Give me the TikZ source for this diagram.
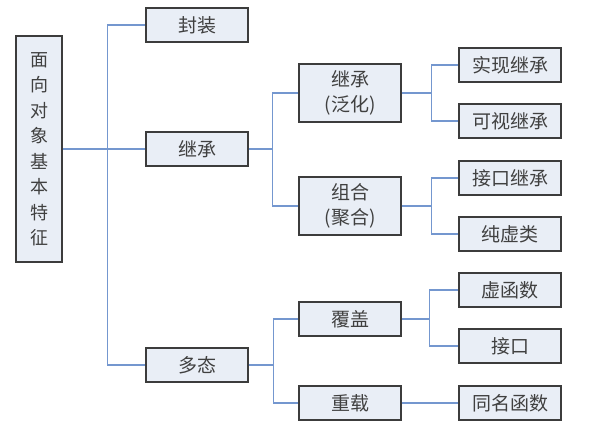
\documentclass[tikz,border=0pt]{standalone}
\usepackage{fontspec}
\setmainfont{Noto Sans CJK SC}
\usepackage{tikz}
\usetikzlibrary{positioning}

\definecolor{boxfill}{HTML}{E9EEF6}
\definecolor{boxline}{HTML}{3C3C3C}
\definecolor{linkblue}{HTML}{7497CF}

\tikzset{
  box/.style={draw=boxline, line width=1.6pt, fill=boxfill, minimum width=102pt,
    minimum height=34pt, inner sep=0pt, align=center, text=black!75,
    font=\fontsize{19}{25}\selectfont},
  tall/.style={box, minimum height=58pt},
  link/.style={draw=linkblue, line width=1.3pt}
}

\begin{document}
\begin{tikzpicture}[x=1pt,y=-1pt]

\useasboundingbox (0,0) rectangle (593,437);

% root
\node[box, minimum width=46pt, minimum height=226pt,
  font=\fontsize{18}{25.5}\selectfont] (root) at (39,149)
  {面\\向\\对\\象\\基\\本\\特\\征};

% first level
\node[box] (fz) at (197,25) {封装};
\node[box] (jc) at (197,149) {继承};
\node[box] (dt) at (197,365) {多态};

% second level
\node[tall] (fh) at (350,93) {继承\\(泛化)};
\node[tall] (zh) at (350,206) {组合\\(聚合)};
\node[box] (fg) at (350,319) {覆盖};
\node[box] (cz) at (350,403) {重载};

% third level
\node[box] (sx) at (510,65) {实现继承};
\node[box] (ks) at (510,121) {可视继承};
\node[box] (jk) at (510,178) {接口继承};
\node[box] (cx) at (510,234) {纯虚类};
\node[box] (xh) at (510,290) {虚函数};
\node[box] (jo) at (510,346) {接口};
\node[box] (tm) at (510,403) {同名函数};

% connectors
\draw[link] (root.east) -- ++(45,0) coordinate (t0) |- (fz.west);
\draw[link] (t0) -- (jc.west);
\draw[link] (t0) |- (dt.west);

\draw[link] (jc.east) -- ++(24,0) coordinate (t1) |- (fh.west);
\draw[link] (t1) |- (zh.west);

\draw[link] (dt.east) -- ++(25,0) coordinate (t2) |- (fg.west);
\draw[link] (t2) |- (cz.west);

\draw[link] (fh.east) -- ++(30,0) coordinate (t3) |- (sx.west);
\draw[link] (t3) |- (ks.west);
\draw[link] (zh.east) -- ++(30,0) coordinate (t4) |- (jk.west);
\draw[link] (t4) |- (cx.west);
\draw[link] (fg.east) -- ++(28,0) coordinate (t5) |- (xh.west);
\draw[link] (t5) |- (jo.west);
\draw[link] (cz.east) -- (tm.west);

\end{tikzpicture}
\end{document}
